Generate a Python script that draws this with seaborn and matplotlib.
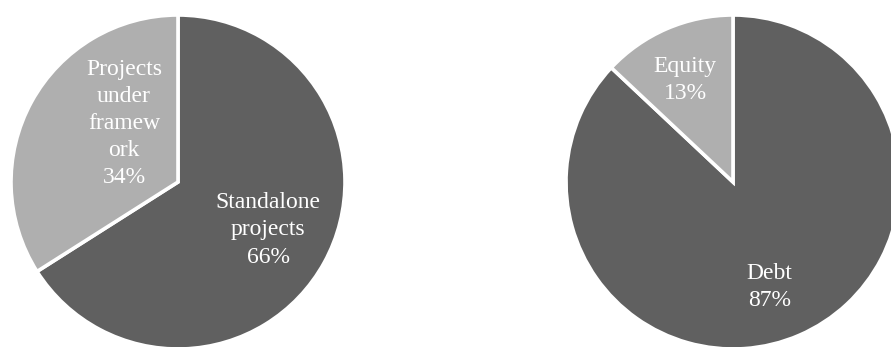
import matplotlib
matplotlib.use("Agg")
import matplotlib.pyplot as plt
import seaborn as sns

# Data
funding_labels = ["Standalone\nprojects", "Projects\nunder\nframew\nork"]
funding_values = [66, 34]
finance_labels = ["Debt", "Equity"]
finance_values = [87, 13]

sns.set_theme(style="white")
plt.rcParams["font.family"] = ["Liberation Serif", "DejaVu Serif"]

dark = "#606060"
light = "#afafaf"

W, H = 891, 347
fig = plt.figure(figsize=(W / 100, H / 100), dpi=100)
fig.patch.set_facecolor("white")

R = 167

def make_ax(cx, cy):
    return fig.add_axes([(cx - R) / W, (H - cy - R) / H, 2 * R / W, 2 * R / H])

def draw(ax, values, labels, label_pos):
    ax.pie(values, colors=[dark, light], startangle=90, counterclock=False,
           radius=1, wedgeprops=dict(edgecolor="white", linewidth=2.6))
    total = sum(values)
    for (x, y), lab, v in zip(label_pos, labels, values):
        ax.text(x, y, f"{lab}\n{round(100 * v / total)}%", ha="center", va="center",
                color="white", fontsize=17, linespacing=1.38)
    ax.set_xlim(-1, 1)
    ax.set_ylim(-1, 1)
    ax.set_aspect("equal")
    ax.axis("off")

ax1 = make_ax(178, 182)
draw(ax1, funding_values, funding_labels, [(0.539, -0.287), (-0.323, 0.350)])

ax2 = make_ax(733, 182)
draw(ax2, finance_values, finance_labels, [(0.219, -0.626), (-0.287, 0.611)])

fig.savefig("out.png", dpi=100, facecolor="white")
